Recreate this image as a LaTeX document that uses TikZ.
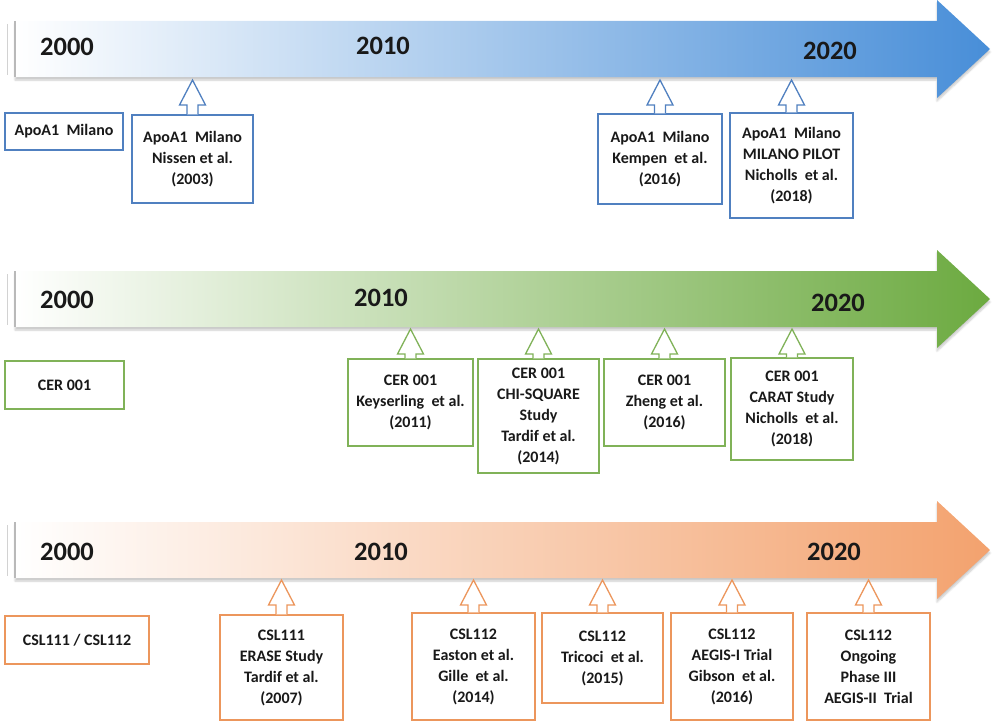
\documentclass[tikz,border=0pt]{standalone}
\usepackage{fontspec}
\setmainfont{Carlito}
\usetikzlibrary{calc,shadows.blur}
\definecolor{txt}{RGB}{25,25,25}
\definecolor{blfill}{RGB}{72,142,216}
\definecolor{grfill}{RGB}{108,170,64}
\definecolor{orfill}{RGB}{243,162,110}
\definecolor{blline}{RGB}{80,128,192}
\definecolor{grline}{RGB}{128,178,88}
\definecolor{orline}{RGB}{236,150,92}
\newcommand\timeline[2]{%
  \path[blur shadow={shadow blur steps=6, shadow xshift=0pt, shadow yshift=-3pt, shadow opacity=22},
        left color=white, right color=#2]
    (15,#1-28) -- (937,#1-28) -- (937,#1-49) -- (990,#1) -- (937,#1+49) -- (937,#1+28) -- (15,#1+28) -- cycle;
  \draw[gray!35, line width=1pt] (7,#1-25) -- (7,#1+26);
  \draw[gray!55, line width=1.4pt] (15,#1-28) -- (15,#1+28);
}
\newcommand\hollowup[3]{%
  \coordinate (#1t) at (#1.north |- #2);
  \draw[hollow=#3] ($(#1.north)+(-5.5pt,0)$) -- ($(#1t)+(-5.5pt,-25pt)$) -- ($(#1t)+(-13pt,-25pt)$)
     -- (#1t) -- ($(#1t)+(13pt,-25pt)$) -- ($(#1t)+(5.5pt,-25pt)$) -- ($(#1.north)+(5.5pt,0)$);
}
\begin{document}
\begin{tikzpicture}[x=1pt,y=-1pt,
  box/.style={draw=#1, line width=1.3pt, fill=white, align=center, text=txt,
    font=\bfseries\fontsize{16}{21}\selectfont, inner sep=2pt},
  year/.style={font=\bfseries\fontsize{26.5}{30}\selectfont, text=txt},
  hollow/.style={draw=#1, line width=1.3pt, fill=white, line join=miter}]
\useasboundingbox (0,0) rectangle (992,725);

% ---------- row 1 (blue) ----------
\timeline{49}{blfill}
\node[year] (y1a) at (67,47) {2000};
\node[year] (y1b) at (383,46) {2010};
\node[year] (y1c) at (830,51) {2020};
\coordinate (r1) at (0,80);
\node[box=blline, minimum width=118pt, minimum height=37pt] (apo) at (64,131.5) {ApoA1~~Milano};
\node[box=blline, minimum width=121pt, minimum height=88pt] (nissen) at (192.5,159) {ApoA1~~Milano\\Nissen et al.\\(2003)};
\node[box=blline, minimum width=124pt, minimum height=90pt] (kempen) at (660,159) {ApoA1~~Milano\\Kempen~~et al.\\(2016)};
\node[box=blline, minimum width=123pt, minimum height=105pt] (nich1) at (791.5,165.5) {ApoA1~~Milano\\MILANO PILOT\\Nicholls~~et al.\\(2018)};
\hollowup{nissen}{r1}{blline}
\hollowup{kempen}{r1}{blline}
\hollowup{nich1}{r1}{blline}

% ---------- row 2 (green) ----------
\timeline{299}{grfill}
\node[year] (y2a) at (67,300) {2000};
\node[year] (y2b) at (381,298) {2010};
\node[year] (y2c) at (838,303) {2020};
\coordinate (r2) at (0,329);
\node[box=grline, minimum width=119pt, minimum height=48pt] (cer) at (64.5,385) {CER 001};
\node[box=grline, minimum width=125pt, minimum height=87pt] (keys) at (410.5,402.5) {CER 001\\Keyserling~~et al.\\(2011)};
\node[box=grline, minimum width=121pt, minimum height=114pt] (chi) at (538.5,416) {CER 001\\CHI-SQUARE\\Study\\Tardif et al.\\(2014)};
\node[box=grline, minimum width=121pt, minimum height=87pt] (zheng) at (664.5,402.5) {CER 001\\Zheng et al.\\(2016)};
\node[box=grline, minimum width=122pt, minimum height=102pt] (carat) at (792,409) {CER 001\\CARAT Study\\Nicholls~~et al.\\(2018)};
\hollowup{keys}{r2}{grline}
\hollowup{chi}{r2}{grline}
\hollowup{zheng}{r2}{grline}
\hollowup{carat}{r2}{grline}

% ---------- row 3 (orange) ----------
\timeline{550}{orfill}
\node[year] (y3a) at (67,552) {2000};
\node[year] (y3b) at (381,552) {2010};
\node[year] (y3c) at (834,552) {2020};
\coordinate (r3) at (0,580);
\node[box=orline, minimum width=144pt, minimum height=48pt] (csl) at (77,640) {CSL111 / CSL112};
\node[box=orline, minimum width=123pt, minimum height=105pt] (erase) at (281.5,667.5) {CSL111\\ERASE Study\\Tardif et al.\\(2007)};
\node[box=orline, minimum width=123pt, minimum height=107pt] (easton) at (473.5,666.5) {CSL112\\Easton et al.\\Gille~~et al.\\(2014)};
\node[box=orline, minimum width=121pt, minimum height=90pt] (tricoci) at (602.5,658) {CSL112\\Tricoci~~et al.\\(2015)};
\node[box=orline, minimum width=122pt, minimum height=107pt] (aegis) at (732,666.5) {CSL112\\AEGIS-I Trial\\Gibson~~et al.\\(2016)};
\node[box=orline, minimum width=123pt, minimum height=107pt] (ongoing) at (868.5,666.5) {CSL112\\Ongoing\\Phase III\\AEGIS-II~~Trial};
\hollowup{erase}{r3}{orline}
\hollowup{easton}{r3}{orline}
\hollowup{tricoci}{r3}{orline}
\hollowup{aegis}{r3}{orline}
\hollowup{ongoing}{r3}{orline}
\end{tikzpicture}
\end{document}
